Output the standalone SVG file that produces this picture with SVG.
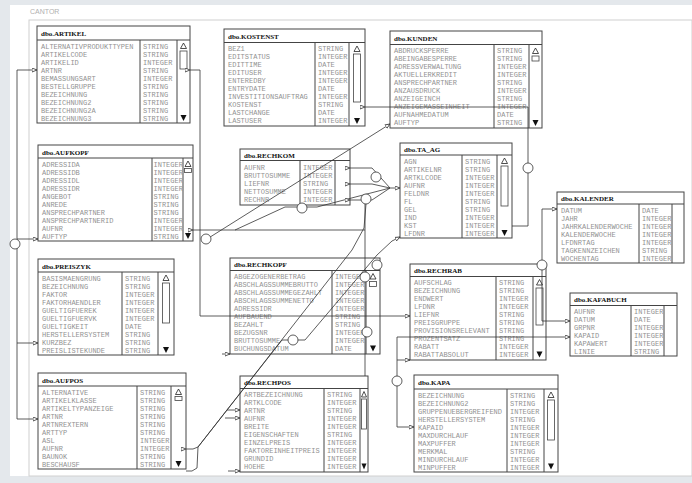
<svg xmlns="http://www.w3.org/2000/svg" width="692" height="483" viewBox="0 0 692 483">
<style>
.box{fill:#fff;stroke:#444;stroke-width:1}
.sep{stroke:#444;stroke-width:1;fill:none}
.ttl{font-family:"Liberation Serif",serif;font-weight:bold;font-size:7px;fill:#111}
.fn{font-family:"Liberation Mono",monospace;font-size:7px;fill:#929292}
.up{fill:#fff;stroke:#222;stroke-width:0.8}
.dn{fill:#111}
.th{fill:#fff;stroke:#444;stroke-width:0.8}
.cn{fill:none;stroke:#333;stroke-width:0.8}
.ci{fill:#fff;stroke:#333;stroke-width:0.8}
</style>
<defs>
<marker id="ar" viewBox="0 0 5 5" refX="5" refY="2.5" markerWidth="5" markerHeight="5" markerUnits="userSpaceOnUse" orient="auto">
<path d="M0,0.5 L5,2.5 L0,4.5 Z" fill="#fff" stroke="#333" stroke-width="0.8"/>
</marker>
</defs>
<rect x="0" y="0" width="692" height="483" fill="#e4e8ec"/>
<rect x="10" y="5" width="682" height="471" fill="#fff"/>
<rect x="29" y="20" width="663" height="456" fill="#fff" stroke="#d0d0d0" stroke-width="1"/>
<text x="30" y="14" style="font-family:'Liberation Sans',sans-serif;font-size:7px;fill:#b0b0b0">CANTOR</text>

<g id="t-artikel">
<rect class="box" x="37" y="26" width="153" height="97"/>
<path class="sep" d="M37,40 H190 M140,40 V123 M177,40 V123"/>
<text class="ttl" x="41" y="35.5">dbo.ARTIKEL</text>
<text class="fn" y="48.5"><tspan x="41">ALTERNATIVPRODUKTTYPEN</tspan><tspan x="41" dy="8">ARTIKELCODE</tspan><tspan x="41" dy="8">ARTIKELID</tspan><tspan x="41" dy="8">ARTNR</tspan><tspan x="41" dy="8">BEMASSUNGSART</tspan><tspan x="41" dy="8">BESTELLGRUPPE</tspan><tspan x="41" dy="8">BEZEICHNUNG</tspan><tspan x="41" dy="8">BEZEICHNUNG2</tspan><tspan x="41" dy="8">BEZEICHNUNG2A</tspan><tspan x="41" dy="8">BEZEICHNUNG3</tspan></text>
<text class="fn" y="48.5"><tspan x="143">STRING</tspan><tspan x="143" dy="8">STRING</tspan><tspan x="143" dy="8">INTEGER</tspan><tspan x="143" dy="8">STRING</tspan><tspan x="143" dy="8">INTEGER</tspan><tspan x="143" dy="8">STRING</tspan><tspan x="143" dy="8">STRING</tspan><tspan x="143" dy="8">STRING</tspan><tspan x="143" dy="8">STRING</tspan><tspan x="143" dy="8">STRING</tspan></text>
<path class="up" d="M183.5,43 L180.5,48.5 H186.5 Z"/>
<rect class="th" x="180" y="51" width="7" height="18"/>
<path class="dn" d="M180.5,115 H186.5 L183.5,121 Z"/>
</g>

<g id="t-kostenst">
<rect class="box" x="224" y="29" width="141" height="97"/>
<path class="sep" d="M224,42.5 H365 M315,42.5 V126 M349,42.5 V126"/>
<text class="ttl" x="228" y="38.5">dbo.KOSTENST</text>
<text class="fn" y="51"><tspan x="228">BEZ1</tspan><tspan x="228" dy="8">EDITSTATUS</tspan><tspan x="228" dy="8">EDITTIME</tspan><tspan x="228" dy="8">EDITUSER</tspan><tspan x="228" dy="8">ENTEREDBY</tspan><tspan x="228" dy="8">ENTRYDATE</tspan><tspan x="228" dy="8">INVESTITIONSAUFTRAG</tspan><tspan x="228" dy="8">KOSTENST</tspan><tspan x="228" dy="8">LASTCHANGE</tspan><tspan x="228" dy="8">LASTUSER</tspan></text>
<text class="fn" y="51"><tspan x="318">STRING</tspan><tspan x="318" dy="8">INTEGER</tspan><tspan x="318" dy="8">DATE</tspan><tspan x="318" dy="8">INTEGER</tspan><tspan x="318" dy="8">INTEGER</tspan><tspan x="318" dy="8">DATE</tspan><tspan x="318" dy="8">INTEGER</tspan><tspan x="318" dy="8">STRING</tspan><tspan x="318" dy="8">DATE</tspan><tspan x="318" dy="8">INTEGER</tspan></text>
<path class="up" d="M357,46 L354,51.5 H360 Z"/>
<rect class="th" x="353.5" y="54" width="7" height="48"/>
<path class="dn" d="M354,118 H360 L357,124 Z"/>
</g>

<g id="t-kunden">
<rect class="box" x="390" y="31" width="152" height="97"/>
<path class="sep" d="M390,44.5 H542 M494,44.5 V128 M529,44.5 V128"/>
<text class="ttl" x="394" y="40.5">dbo.KUNDEN</text>
<text class="fn" y="53"><tspan x="394">ABDRUCKSPERRE</tspan><tspan x="394" dy="8">ABEINGABESPERRE</tspan><tspan x="394" dy="8">ADRESSVERWALTUNG</tspan><tspan x="394" dy="8">AKTUELLERKREDIT</tspan><tspan x="394" dy="8">ANSPRECHPARTNER</tspan><tspan x="394" dy="8">ANZAUSDRUCK</tspan><tspan x="394" dy="8">ANZEIGEINCH</tspan><tspan x="394" dy="8">ANZEIGEMASSEINHEIT</tspan><tspan x="394" dy="8">AUFNAHMEDATUM</tspan><tspan x="394" dy="8">AUFTYP</tspan></text>
<text class="fn" y="53"><tspan x="497">STRING</tspan><tspan x="497" dy="8">STRING</tspan><tspan x="497" dy="8">INTEGER</tspan><tspan x="497" dy="8">INTEGER</tspan><tspan x="497" dy="8">STRING</tspan><tspan x="497" dy="8">INTEGER</tspan><tspan x="497" dy="8">STRING</tspan><tspan x="497" dy="8">INTEGER</tspan><tspan x="497" dy="8">DATE</tspan><tspan x="497" dy="8">STRING</tspan></text>
<path class="up" d="M535.5,48 L532.5,53.5 H538.5 Z"/>
<rect class="th" x="532" y="56" width="7" height="5"/>
<path class="dn" d="M532.5,120 H538.5 L535.5,126 Z"/>
</g>

<g id="t-aufkopf">
<rect class="box" x="38" y="145" width="155" height="96"/>
<path class="sep" d="M38,158 H193 M152,158 V241 M183,158 V241"/>
<text class="ttl" x="42" y="154.5">dbo.AUFKOPF</text>
<text class="fn" y="166.5"><tspan x="42">ADRESSIDA</tspan><tspan x="42" dy="8">ADRESSIDB</tspan><tspan x="42" dy="8">ADRESSIDL</tspan><tspan x="42" dy="8">ADRESSIDR</tspan><tspan x="42" dy="8">ANGEBOT</tspan><tspan x="42" dy="8">ANREDE</tspan><tspan x="42" dy="8">ANSPRECHPARTNER</tspan><tspan x="42" dy="8">ANSPRECHPARTNERID</tspan><tspan x="42" dy="8">AUFNR</tspan><tspan x="42" dy="8">AUFTYP</tspan></text>
<text class="fn" y="166.5"><tspan x="153.5">INTEGER</tspan><tspan x="153.5" dy="8">INTEGER</tspan><tspan x="153.5" dy="8">INTEGER</tspan><tspan x="153.5" dy="8">INTEGER</tspan><tspan x="153.5" dy="8">STRING</tspan><tspan x="153.5" dy="8">STRING</tspan><tspan x="153.5" dy="8">STRING</tspan><tspan x="153.5" dy="8">INTEGER</tspan><tspan x="153.5" dy="8">INTEGER</tspan><tspan x="153.5" dy="8">STRING</tspan></text>
<path class="up" d="M188,161 L185,166.5 H191 Z"/>
<rect class="th" x="184.5" y="168.5" width="7" height="4"/>
<path class="dn" d="M185,233 H191 L188,239 Z"/>
</g>

<g id="t-rechkom">
<rect class="box" x="240" y="149" width="110" height="56"/>
<path class="sep" d="M240,160.5 H350 M300,160.5 V205 M335,160.5 V205"/>
<text class="ttl" x="244" y="157.5">dbo.RECHKOM</text>
<text class="fn" y="169.5"><tspan x="244">AUFNR</tspan><tspan x="244" dy="8">BRUTTOSUMME</tspan><tspan x="244" dy="8">LIEFNR</tspan><tspan x="244" dy="8">NETTOSUMME</tspan><tspan x="244" dy="8">RECHNR</tspan></text>
<text class="fn" y="169.5"><tspan x="303">INTEGER</tspan><tspan x="303" dy="8">INTEGER</tspan><tspan x="303" dy="8">STRING</tspan><tspan x="303" dy="8">INTEGER</tspan><tspan x="303" dy="8">INTEGER</tspan></text>
</g>

<g id="t-ta_ag">
<rect class="box" x="400" y="143" width="112" height="95"/>
<path class="sep" d="M400,155 H512 M462,155 V238 M497,155 V238"/>
<text class="ttl" x="404" y="151.5">dbo.TA_AG</text>
<text class="fn" y="163.5"><tspan x="404">AGN</tspan><tspan x="404" dy="8">ARTIKELNR</tspan><tspan x="404" dy="8">ARTKLCODE</tspan><tspan x="404" dy="8">AUFNR</tspan><tspan x="404" dy="8">FELDNR</tspan><tspan x="404" dy="8">FL</tspan><tspan x="404" dy="8">GEL</tspan><tspan x="404" dy="8">IND</tspan><tspan x="404" dy="8">KST</tspan><tspan x="404" dy="8">LFDNR</tspan></text>
<text class="fn" y="163.5"><tspan x="465">STRING</tspan><tspan x="465" dy="8">STRING</tspan><tspan x="465" dy="8">INTEGER</tspan><tspan x="465" dy="8">INTEGER</tspan><tspan x="465" dy="8">INTEGER</tspan><tspan x="465" dy="8">STRING</tspan><tspan x="465" dy="8">STRING</tspan><tspan x="465" dy="8">INTEGER</tspan><tspan x="465" dy="8">INTEGER</tspan><tspan x="465" dy="8">INTEGER</tspan></text>
<path class="up" d="M504.5,158 L501.5,163.5 H507.5 Z"/>
<rect class="th" x="501" y="166" width="7" height="40"/>
<path class="dn" d="M501.5,230 H507.5 L504.5,236 Z"/>
</g>

<g id="t-kalender">
<rect class="box" x="557" y="192" width="127" height="71"/>
<path class="sep" d="M557,204 H684 M639,204 V263 M672,204 V263"/>
<text class="ttl" x="561" y="200.5">dbo.KALENDER</text>
<text class="fn" y="212.5"><tspan x="561">DATUM</tspan><tspan x="561" dy="8">JAHR</tspan><tspan x="561" dy="8">JAHRKALENDERWOCHE</tspan><tspan x="561" dy="8">KALENDERWOCHE</tspan><tspan x="561" dy="8">LFDNRTAG</tspan><tspan x="561" dy="8">TAGKENNZEICHEN</tspan><tspan x="561" dy="8">WOCHENTAG</tspan></text>
<text class="fn" y="212.5"><tspan x="642">DATE</tspan><tspan x="642" dy="8">INTEGER</tspan><tspan x="642" dy="8">INTEGER</tspan><tspan x="642" dy="8">INTEGER</tspan><tspan x="642" dy="8">INTEGER</tspan><tspan x="642" dy="8">STRING</tspan><tspan x="642" dy="8">INTEGER</tspan></text>
</g>

<g id="t-preiszyk">
<rect class="box" x="38" y="259" width="136" height="96"/>
<path class="sep" d="M38,272 H174 M122,272 V355 M158,272 V355"/>
<text class="ttl" x="42" y="268.5">dbo.PREISZYK</text>
<text class="fn" y="280.5"><tspan x="42">BASISMAENGRUNG</tspan><tspan x="42" dy="8">BEZEICHNUNG</tspan><tspan x="42" dy="8">FAKTOR</tspan><tspan x="42" dy="8">FAKTORHAENDLER</tspan><tspan x="42" dy="8">GUELTIGFUEREK</tspan><tspan x="42" dy="8">GUELTIGFUERVK</tspan><tspan x="42" dy="8">GUELTIGKEIT</tspan><tspan x="42" dy="8">HERSTELLERSYSTEM</tspan><tspan x="42" dy="8">KURZBEZ</tspan><tspan x="42" dy="8">PREISLISTEKUNDE</tspan></text>
<text class="fn" y="280.5"><tspan x="125">STRING</tspan><tspan x="125" dy="8">STRING</tspan><tspan x="125" dy="8">INTEGER</tspan><tspan x="125" dy="8">INTEGER</tspan><tspan x="125" dy="8">INTEGER</tspan><tspan x="125" dy="8">INTEGER</tspan><tspan x="125" dy="8">DATE</tspan><tspan x="125" dy="8">STRING</tspan><tspan x="125" dy="8">STRING</tspan><tspan x="125" dy="8">STRING</tspan></text>
<path class="up" d="M166,275 L163,280.5 H169 Z"/>
<rect class="th" x="162.5" y="283" width="7" height="40"/>
<path class="dn" d="M163,347 H169 L166,353 Z"/>
</g>

<g id="t-rechkopf">
<rect class="box" x="230" y="258" width="150" height="96"/>
<path class="sep" d="M230,270.5 H380 M332,270.5 V354 M366,270.5 V354"/>
<text class="ttl" x="234" y="267">dbo.RECHKOPF</text>
<text class="fn" y="279"><tspan x="234">ABGEZOGENERBETRAG</tspan><tspan x="234" dy="8">ABSCHLAGSSUMMEBRUTTO</tspan><tspan x="234" dy="8">ABSCHLAGSSUMMEGEZAHLT</tspan><tspan x="234" dy="8">ABSCHLAGSSUMMENETTO</tspan><tspan x="234" dy="8">ADRESSIDR</tspan><tspan x="234" dy="8">AUFBAUEND</tspan><tspan x="234" dy="8">BEZAHLT</tspan><tspan x="234" dy="8">BEZUGSNR</tspan><tspan x="234" dy="8">BRUTTOSUMME</tspan><tspan x="234" dy="8">BUCHUNGSDATUM</tspan></text>
<text class="fn" y="279"><tspan x="335">INTEGER</tspan><tspan x="335" dy="8">INTEGER</tspan><tspan x="335" dy="8">INTEGER</tspan><tspan x="335" dy="8">INTEGER</tspan><tspan x="335" dy="8">INTEGER</tspan><tspan x="335" dy="8">STRING</tspan><tspan x="335" dy="8">STRING</tspan><tspan x="335" dy="8">INTEGER</tspan><tspan x="335" dy="8">INTEGER</tspan><tspan x="335" dy="8">DATE</tspan></text>
<path class="up" d="M373,273.5 L370,279 H376 Z"/>
<rect class="th" x="369.5" y="281.5" width="7" height="5"/>
<path class="dn" d="M370,345.5 H376 L373,351.5 Z"/>
</g>

<g id="t-rechrab">
<rect class="box" x="410" y="264" width="136" height="96"/>
<path class="sep" d="M410,276.5 H546 M496,276.5 V360 M533,276.5 V360"/>
<text class="ttl" x="414" y="273">dbo.RECHRAB</text>
<text class="fn" y="285"><tspan x="414">AUFSCHLAG</tspan><tspan x="414" dy="8">BEZEICHNUNG</tspan><tspan x="414" dy="8">ENDWERT</tspan><tspan x="414" dy="8">LFDNR</tspan><tspan x="414" dy="8">LIEFNR</tspan><tspan x="414" dy="8">PREISGRUPPE</tspan><tspan x="414" dy="8">PROVISIONSRELEVANT</tspan><tspan x="414" dy="8">PROZENTSATZ</tspan><tspan x="414" dy="8">RABATT</tspan><tspan x="414" dy="8">RABATTABSOLUT</tspan></text>
<text class="fn" y="285"><tspan x="499">STRING</tspan><tspan x="499" dy="8">STRING</tspan><tspan x="499" dy="8">INTEGER</tspan><tspan x="499" dy="8">INTEGER</tspan><tspan x="499" dy="8">STRING</tspan><tspan x="499" dy="8">STRING</tspan><tspan x="499" dy="8">STRING</tspan><tspan x="499" dy="8">STRING</tspan><tspan x="499" dy="8">INTEGER</tspan><tspan x="499" dy="8">INTEGER</tspan></text>
<path class="up" d="M539.5,279.5 L536.5,285 H542.5 Z"/>
<rect class="th" x="536" y="288" width="7" height="37"/>
<path class="dn" d="M536.5,351.5 H542.5 L539.5,357.5 Z"/>
</g>

<g id="t-kafabuch">
<rect class="box" x="570" y="293" width="107" height="63"/>
<path class="sep" d="M570,305.5 H677 M631,305.5 V356 M664,305.5 V356"/>
<text class="ttl" x="574" y="302">dbo.KAFABUCH</text>
<text class="fn" y="314"><tspan x="574">AUFNR</tspan><tspan x="574" dy="8">DATUM</tspan><tspan x="574" dy="8">GRPNR</tspan><tspan x="574" dy="8">KAPAID</tspan><tspan x="574" dy="8">KAPAWERT</tspan><tspan x="574" dy="8">LINIE</tspan></text>
<text class="fn" y="314"><tspan x="634">INTEGER</tspan><tspan x="634" dy="8">DATE</tspan><tspan x="634" dy="8">INTEGER</tspan><tspan x="634" dy="8">INTEGER</tspan><tspan x="634" dy="8">INTEGER</tspan><tspan x="634" dy="8">STRING</tspan></text>
</g>

<g id="t-aufpos">
<rect class="box" x="38" y="373" width="148" height="96"/>
<path class="sep" d="M38,386 H186 M137,386 V469 M171,386 V469"/>
<text class="ttl" x="42" y="382.5">dbo.AUFPOS</text>
<text class="fn" y="394.5"><tspan x="42">ALTERNATIVE</tspan><tspan x="42" dy="8">ARTIKELKLASSE</tspan><tspan x="42" dy="8">ARTIKELTYPANZEIGE</tspan><tspan x="42" dy="8">ARTNR</tspan><tspan x="42" dy="8">ARTNREXTERN</tspan><tspan x="42" dy="8">ARTTYP</tspan><tspan x="42" dy="8">ASL</tspan><tspan x="42" dy="8">AUFNR</tspan><tspan x="42" dy="8">BAUNOK</tspan><tspan x="42" dy="8">BESCHAUSF</tspan></text>
<text class="fn" y="394.5"><tspan x="140">STRING</tspan><tspan x="140" dy="8">STRING</tspan><tspan x="140" dy="8">STRING</tspan><tspan x="140" dy="8">STRING</tspan><tspan x="140" dy="8">STRING</tspan><tspan x="140" dy="8">STRING</tspan><tspan x="140" dy="8">INTEGER</tspan><tspan x="140" dy="8">INTEGER</tspan><tspan x="140" dy="8">STRING</tspan><tspan x="140" dy="8">STRING</tspan></text>
<path class="up" d="M178.5,389 L175.5,394.5 H181.5 Z"/>
<rect class="th" x="175" y="396.5" width="7" height="4"/>
<path class="dn" d="M175.5,461 H181.5 L178.5,467 Z"/>
</g>

<g id="t-rechpos">
<rect class="box" x="240" y="376" width="128" height="96"/>
<path class="sep" d="M240,388.5 H368 M324,388.5 V472 M360,388.5 V472"/>
<text class="ttl" x="244" y="385">dbo.RECHPOS</text>
<text class="fn" y="397"><tspan x="244">ARTBEZEICHNUNG</tspan><tspan x="244" dy="8">ARTKLCODE</tspan><tspan x="244" dy="8">ARTNR</tspan><tspan x="244" dy="8">AUFNR</tspan><tspan x="244" dy="8">BREITE</tspan><tspan x="244" dy="8">EIGENSCHAFTEN</tspan><tspan x="244" dy="8">EINZELPREIS</tspan><tspan x="244" dy="8">FAKTOREINHEITPREIS</tspan><tspan x="244" dy="8">GRUNDID</tspan><tspan x="244" dy="8">HOEHE</tspan></text>
<text class="fn" y="397"><tspan x="327">STRING</tspan><tspan x="327" dy="8">INTEGER</tspan><tspan x="327" dy="8">STRING</tspan><tspan x="327" dy="8">INTEGER</tspan><tspan x="327" dy="8">INTEGER</tspan><tspan x="327" dy="8">STRING</tspan><tspan x="327" dy="8">INTEGER</tspan><tspan x="327" dy="8">INTEGER</tspan><tspan x="327" dy="8">INTEGER</tspan><tspan x="327" dy="8">INTEGER</tspan></text>
<path class="up" d="M364,391.5 L361.5,397 H366.5 Z"/>
<rect class="th" x="361.5" y="399" width="5" height="30"/>
<path class="dn" d="M361.5,463.5 H366.5 L364,469.5 Z"/>
</g>

<g id="t-kapa">
<rect class="box" x="414" y="375" width="144" height="97"/>
<path class="sep" d="M414,389 H558 M507,389 V472 M544,389 V472"/>
<text class="ttl" x="418" y="385">dbo.KAPA</text>
<text class="fn" y="397.5"><tspan x="418">BEZEICHNUNG</tspan><tspan x="418" dy="8">BEZEICHNUNG2</tspan><tspan x="418" dy="8">GRUPPENUEBERGREIFEND</tspan><tspan x="418" dy="8">HERSTELLERSYSTEM</tspan><tspan x="418" dy="8">KAPAID</tspan><tspan x="418" dy="8">MAXDURCHLAUF</tspan><tspan x="418" dy="8">MAXPUFFER</tspan><tspan x="418" dy="8">MERKMAL</tspan><tspan x="418" dy="8">MINDURCHLAUF</tspan><tspan x="418" dy="8">MINPUFFER</tspan></text>
<text class="fn" y="397.5"><tspan x="510">STRING</tspan><tspan x="510" dy="8">STRING</tspan><tspan x="510" dy="8">INTEGER</tspan><tspan x="510" dy="8">STRING</tspan><tspan x="510" dy="8">INTEGER</tspan><tspan x="510" dy="8">INTEGER</tspan><tspan x="510" dy="8">INTEGER</tspan><tspan x="510" dy="8">STRING</tspan><tspan x="510" dy="8">INTEGER</tspan><tspan x="510" dy="8">INTEGER</tspan></text>
<path class="up" d="M551,392 L548,397.5 H554 Z"/>
<rect class="th" x="547.5" y="400" width="7" height="40"/>
<path class="dn" d="M548,463.5 H554 L551,469.5 Z"/>
</g>

<g id="connectors">
<path class="cn" marker-end="url(#ar)" d="M17,70 H37"/>
<path class="cn" marker-end="url(#ar)" d="M17,70 V419 H38"/>
<path class="cn" marker-end="url(#ar)" d="M17,239 H38"/>
<path class="cn" marker-end="url(#ar)" d="M17,343 H38"/>
<circle class="ci" cx="15" cy="244" r="5"/>
<path class="cn" marker-start="url(#ar)" d="M190,70 H200 V316"/>
<path class="cn" marker-end="url(#ar)" d="M200,316 H410"/>
<path class="cn" marker-end="url(#ar)" d="M207,239 L390,124"/>
<circle class="ci" cx="206" cy="239" r="5"/>
<path class="cn" marker-start="url(#ar)" d="M193,230 H365"/>
<path class="cn" d="M235,230 L285,207 L317,207 L390,188"/>
<circle class="ci" cx="302" cy="208" r="5"/>
<path class="cn" marker-start="url(#ar)" d="M365,107 H528 V226 H512"/>
<circle class="ci" cx="528" cy="168" r="5"/>
<path class="cn" marker-end="url(#ar)" d="M542,265 V209 H557"/>
<path class="cn" marker-end="url(#ar)" d="M542,265 V321 H570"/>
<circle class="ci" cx="542" cy="265" r="5"/>
<path class="cn" marker-end="url(#ar)" d="M397,337 H570"/>
<path class="cn" marker-end="url(#ar)" d="M397,337 V427 H414"/>
<path class="cn" marker-end="url(#ar)" d="M397,360 H410"/>
<circle class="ci" cx="397" cy="381" r="5"/>
<path class="cn" marker-start="url(#ar)" d="M350,168 H372 L390,188"/>
<path class="cn" marker-start="url(#ar)" d="M350,184 H372 L390,188"/>
<path class="cn" marker-start="url(#ar)" d="M350,200 H372 L390,188"/>
<path class="cn" marker-end="url(#ar)" d="M390,188 H400"/>
<circle class="ci" cx="376" cy="177" r="5"/>
<circle class="ci" cx="366" cy="199" r="5"/>
<path class="cn" d="M365,204 V376"/>
<circle class="ci" cx="365" cy="277" r="5"/>
<circle class="ci" cx="367" cy="332" r="5"/>
<circle class="ci" cx="377" cy="265" r="5"/>
<path class="cn" marker-end="url(#ar)" d="M222,354 H230"/>
<path class="cn" marker-start="url(#ar)" d="M186,449 H193 L198,447 L197,468 L192,471 H186"/>
<path class="cn" d="M198,447 L352,250 L364,228 L366,204"/>
<path class="cn" marker-end="url(#ar)" d="M198,447 L282,340 H305 L377,255 L392,241 L400,237"/>
<circle class="ci" cx="293" cy="340" r="5"/>
<path class="cn" marker-end="url(#ar)" d="M227,410 H240"/>
<path class="cn" marker-end="url(#ar)" d="M225,418 H240"/>
<path class="cn" marker-end="url(#ar)" d="M228,471 H240"/>
</g>
</svg>
